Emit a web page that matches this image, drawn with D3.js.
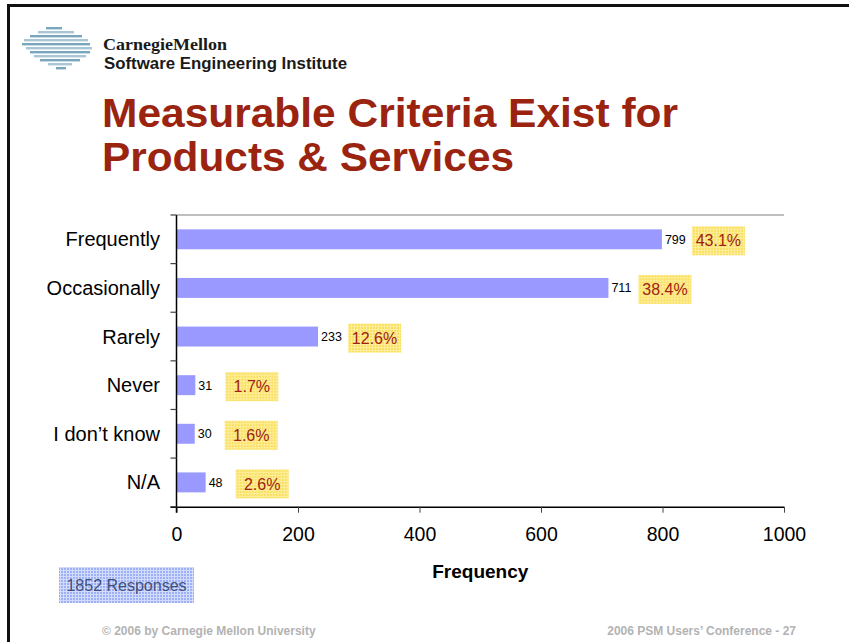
<!DOCTYPE html>
<html>
<head>
<meta charset="utf-8">
<script src="https://cdn.jsdelivr.net/npm/d3@7"></script>
<style>
  body { margin: 0; background: #fff; }
  svg { display: block; font-family: "Liberation Sans", Arial, sans-serif; }
</style>
</head>
<body>
<div id="chart-container"></div>
<script>
// Chart data
const categories = ["Frequently", "Occasionally", "Rarely", "Never", "I don\u2019t know", "N/A"];
const counts = [799, 711, 233, 31, 30, 48];
const percentLabels = ["43.1%", "38.4%", "12.6%", "1.7%", "1.6%", "2.6%"];
const xTickValues = [0, 200, 400, 600, 800, 1000];

const titleLines = ["Measurable Criteria Exist for", "Products & Services"];
const xAxisName = "Frequency";
const responsesNote = "1852 Responses";

const W = 849, H = 642;
const plot = {left: 176.5, right: 784, top: 215, bottom: 506.7};

var svg = d3.select("#chart-container")
    .append("svg")
    .attr("width", W)
    .attr("height", H);

var defs = svg.append("defs");

// yellow mesh used behind the percent labels
var yellowPat = defs.append("pattern")
    .attr("id", "yellow-mesh")
    .attr("width", 3).attr("height", 3)
    .attr("patternUnits", "userSpaceOnUse");
yellowPat.append("rect").attr("width", 3).attr("height", 3).attr("fill", "#f9df5a");
yellowPat.append("rect").attr("width", 3).attr("height", 1).attr("fill", "#fdeea0");
yellowPat.append("rect").attr("width", 1).attr("height", 3).attr("fill", "#fdeea0");

// blue mesh for the responses note
var bluePat = defs.append("pattern")
    .attr("id", "blue-mesh")
    .attr("width", 3).attr("height", 3)
    .attr("patternUnits", "userSpaceOnUse");
bluePat.append("rect").attr("width", 3).attr("height", 3).attr("fill", "#9fb1f6");
bluePat.append("rect").attr("width", 3).attr("height", 1).attr("fill", "#d2dbfb");
bluePat.append("rect").attr("width", 1).attr("height", 3).attr("fill", "#d2dbfb");

// slide frame (left + top edges)
svg.append("rect").attr("x", 7).attr("y", 4).attr("width", W - 7).attr("height", 3).attr("fill", "#111");
svg.append("rect").attr("x", 7).attr("y", 4).attr("width", 3).attr("height", H - 4).attr("fill", "#111");

// logo: striped globe
const stripes = [
    [27, 46, 62], [31, 38, 74], [35, 30, 82], [39, 24, 88], [43, 22, 90],
    [47, 26, 92], [51, 30, 90], [55, 34, 86], [59, 40, 80], [63, 48, 72], [67, 56, 66]
];
svg.append("g").selectAll("rect")
    .data(stripes)
    .join("rect")
    .attr("x", d => d[1])
    .attr("y", d => d[0])
    .attr("width", d => d[2] - d[1])
    .attr("height", 2.4)
    .attr("fill", (d, i) => i % 2 ? "#a9c6d6" : "#78a6bd");

svg.append("text")
    .attr("x", 103).attr("y", 50)
    .attr("font-family", "'Liberation Serif', 'Times New Roman', serif")
    .attr("font-weight", "bold")
    .attr("font-size", 17.5)
    .attr("textLength", 124)
    .attr("lengthAdjust", "spacingAndGlyphs")
    .attr("fill", "#1a1a1a")
    .text("CarnegieMellon");

svg.append("text")
    .attr("x", 104).attr("y", 69)
    .attr("font-weight", "bold")
    .attr("font-size", 16.5)
    .attr("textLength", 243)
    .attr("lengthAdjust", "spacingAndGlyphs")
    .attr("fill", "#1a1a1a")
    .text("Software Engineering Institute");

// title
svg.append("g").selectAll("text")
    .data(titleLines)
    .join("text")
    .attr("x", 102)
    .attr("y", (d, i) => 127 + i * 44)
    .attr("font-weight", "bold")
    .attr("font-size", 41)
    .attr("textLength", (d, i) => i === 0 ? 576 : 412)
    .attr("lengthAdjust", "spacingAndGlyphs")
    .attr("fill", "#9a2410")
    .text(d => d);

// scales
var xScale = d3.scaleLinear()
    .domain([0, 1000])
    .range([plot.left, plot.right]);

var yScale = d3.scaleBand()
    .domain(categories)
    .range([plot.top, plot.bottom])
    .paddingInner(0.59)
    .paddingOuter(0.295);

const step = yScale.step();

// plot area top edge
svg.append("line")
    .attr("x1", plot.left).attr("x2", plot.right)
    .attr("y1", plot.top).attr("y2", plot.top)
    .attr("stroke", "#aaa").attr("stroke-width", 1.5);

// bars
svg.append("g").selectAll("rect")
    .data(categories)
    .join("rect")
    .attr("x", xScale(0))
    .attr("y", d => yScale(d))
    .attr("width", (d, i) => xScale(counts[i]) - xScale(0))
    .attr("height", yScale.bandwidth())
    .attr("fill", "#9999ff");

// x axis
var xAxis = svg.append("g")
    .attr("transform", `translate(0, ${plot.bottom})`)
    .call(d3.axisBottom(xScale)
        .tickValues(xTickValues)
        .tickFormat(d3.format("d"))
        .tickSize(6).tickSizeOuter(0).tickPadding(14));
xAxis.select(".domain").attr("stroke", "#000").attr("stroke-width", 1.5)
    .attr("d", `M${plot.left - 6},0.5H${plot.right}`);
xAxis.selectAll(".tick line").attr("stroke", "#444");
xAxis.selectAll(".tick text")
    .attr("font-family", "'Liberation Sans', Arial, sans-serif")
    .attr("font-size", 19.5)
    .attr("fill", "#000");

// y axis: line + boundary ticks
svg.append("line")
    .attr("x1", plot.left).attr("x2", plot.left)
    .attr("y1", plot.top).attr("y2", plot.bottom + 6)
    .attr("stroke", "#000").attr("stroke-width", 1.5);

svg.append("g").selectAll("line")
    .data(d3.range(categories.length + 1))
    .join("line")
    .attr("x1", plot.left - 6).attr("x2", plot.left)
    .attr("y1", i => plot.top + i * step)
    .attr("y2", i => plot.top + i * step)
    .attr("stroke", "#444").attr("stroke-width", 1.2);

// category labels
svg.append("g").selectAll("text")
    .data(categories)
    .join("text")
    .attr("x", 160)
    .attr("y", d => yScale(d) + yScale.bandwidth() / 2)
    .attr("dy", "0.35em")
    .attr("text-anchor", "end")
    .attr("font-size", 20)
    .attr("fill", "#000")
    .text(d => d);

// value labels
svg.append("g").selectAll("text")
    .data(categories)
    .join("text")
    .attr("x", (d, i) => xScale(counts[i]) + 3)
    .attr("y", d => yScale(d) + yScale.bandwidth() / 2)
    .attr("dy", "0.35em")
    .attr("font-size", 12.5)
    .attr("fill", "#000")
    .text((d, i) => counts[i]);

// percent labels in yellow boxes
var pct = svg.append("g").selectAll("g")
    .data(categories)
    .join("g")
    .attr("transform", (d, i) => `translate(${xScale(counts[i]) + 30}, ${yScale(d) + yScale.bandwidth() / 2 + 1.5})`);

pct.append("rect")
    .attr("x", 0).attr("y", -14.5)
    .attr("width", 53).attr("height", 29)
    .attr("fill", "url(#yellow-mesh)");

pct.append("text")
    .attr("x", 26.5)
    .attr("dy", "0.35em")
    .attr("text-anchor", "middle")
    .attr("font-size", 16)
    .attr("fill", "#a0220f")
    .text((d, i) => percentLabels[i]);

// x axis title
svg.append("text")
    .attr("x", (plot.left + plot.right) / 2)
    .attr("y", 577.5)
    .attr("text-anchor", "middle")
    .attr("font-weight", "bold")
    .attr("font-size", 19)
    .attr("fill", "#000")
    .text(xAxisName);

// responses note
svg.append("rect")
    .attr("x", 59).attr("y", 567)
    .attr("width", 135).attr("height", 36)
    .attr("fill", "url(#blue-mesh)");
svg.append("text")
    .attr("x", 126.5).attr("y", 585)
    .attr("dy", "0.35em")
    .attr("text-anchor", "middle")
    .attr("font-size", 16)
    .attr("fill", "#3f5079")
    .text(responsesNote);

// footer
svg.append("text")
    .attr("x", 102).attr("y", 635)
    .attr("font-weight", "bold")
    .attr("font-size", 12)
    .attr("fill", "#b3b3b3")
    .text("\u00a9 2006 by Carnegie Mellon University");
svg.append("text")
    .attr("x", 796).attr("y", 635)
    .attr("text-anchor", "end")
    .attr("font-weight", "bold")
    .attr("font-size", 12)
    .attr("fill", "#b3b3b3")
    .text("2006 PSM Users\u2019 Conference - 27");
</script>
</body>
</html>
